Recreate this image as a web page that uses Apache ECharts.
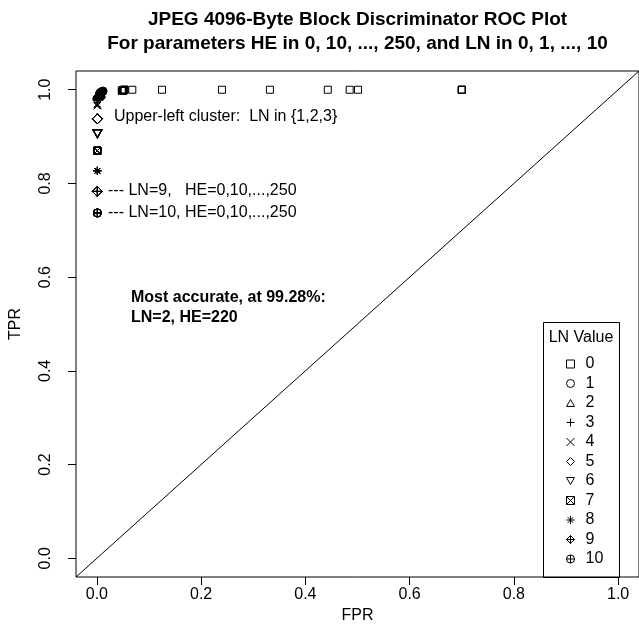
<!DOCTYPE html>
<html>
<head>
<meta charset="utf-8">
<title>ROC Plot</title>
<script src="https://cdn.jsdelivr.net/npm/echarts@6/dist/echarts.min.js"></script>
<style>html,body{margin:0;padding:0;background:#fff;}</style>
</head>
<body>
<div id="main" style="width:639px;height:635px;"></div>
<script type="text/javascript">
    // tick labels and axis limits (R adds 4% on each side)
    const xTicks = [0, 0.2, 0.4, 0.6, 0.8, 1.0];
    const yTicks = [0, 0.2, 0.4, 0.6, 0.8, 1.0];
    const axisMin = -0.04;
    const axisMax = 1.04;

    // legend names, LN = 0..10
    const lnNames = ['0', '1', '2', '3', '4', '5', '6', '7', '8', '9', '10'];

    // FPR / TPR per LN value, one point per HE value
    const fpr0 = [0.700, 0.700, 0.700, 0.501, 0.485, 0.443, 0.332, 0.240, 0.125, 0.068,
        0.053, 0.053, 0.052, 0.052, 0.052, 0.051, 0.051, 0.051, 0.050, 0.050,
        0.050, 0.049, 0.049, 0.049, 0.048, 0.048];
    const tpr0 = [1.000, 1.000, 1.000, 1.000, 1.000, 1.000, 1.000, 1.000, 1.000, 1.000,
        1.000, 1.000, 1.000, 0.999, 0.999, 0.999, 0.999, 0.999, 0.999, 0.999,
        0.999, 0.999, 0.998, 0.998, 0.998, 0.998];
    const fpr1 = [0.012, 0.011, 0.011, 0.010, 0.010, 0.010, 0.009, 0.009, 0.009, 0.009,
        0.008, 0.008, 0.008, 0.008, 0.008, 0.007, 0.007, 0.007, 0.007, 0.007,
        0.006, 0.006, 0.006, 0.006, 0.005, 0.005];
    const tpr1 = [0.997, 0.997, 0.996, 0.996, 0.996, 0.995, 0.995, 0.995, 0.995, 0.994,
        0.994, 0.994, 0.994, 0.994, 0.993, 0.993, 0.993, 0.993, 0.993, 0.992,
        0.992, 0.992, 0.992, 0.991, 0.991, 0.990];
    const fpr2 = [0.007, 0.007, 0.006, 0.006, 0.006, 0.005, 0.005, 0.005, 0.005, 0.005,
        0.004, 0.004, 0.004, 0.004, 0.004, 0.004, 0.004, 0.004, 0.004, 0.004,
        0.004, 0.003, 0.003, 0.003, 0.003, 0.002];
    const tpr2 = [0.993, 0.993, 0.992, 0.992, 0.992, 0.991, 0.991, 0.991, 0.991, 0.990,
        0.990, 0.990, 0.990, 0.990, 0.990, 0.990, 0.990, 0.990, 0.990, 0.989,
        0.989, 0.989, 0.988, 0.988, 0.987, 0.986];
    const fpr3 = [0.003, 0.003, 0.003, 0.003, 0.002, 0.002, 0.002, 0.002, 0.002, 0.002,
        0.002, 0.002, 0.002, 0.001, 0.001, 0.001, 0.001, 0.001, 0.001, 0.001,
        0.001, 0.001, 0.001, 0.001, 0.001, 0.001];
    const tpr3 = [0.987, 0.987, 0.986, 0.986, 0.986, 0.985, 0.985, 0.985, 0.984, 0.984,
        0.984, 0.983, 0.983, 0.983, 0.982, 0.982, 0.982, 0.981, 0.981, 0.981,
        0.980, 0.980, 0.980, 0.979, 0.979, 0.978];
    const fpr4 = [0.001, 0.001, 0.001, 0.001, 0.001, 0.001];
    const tpr4 = [0.970, 0.968, 0.966, 0.966, 0.966, 0.966];
    const fpr5 = [0.001, 0.001, 0.001, 0.001, 0.001, 0.001];
    const tpr5 = [0.938, 0.938, 0.938, 0.938, 0.938, 0.938];
    const fpr6 = [0.001, 0.001, 0.001, 0.001, 0.001, 0.001];
    const tpr6 = [0.906, 0.906, 0.906, 0.906, 0.906, 0.906];
    const fpr7 = [0.001, 0.001, 0.001, 0.001, 0.001, 0.001];
    const tpr7 = [0.870, 0.870, 0.870, 0.870, 0.870, 0.870];
    const fpr8 = [0.001, 0.001, 0.001, 0.001, 0.001, 0.001];
    const tpr8 = [0.827, 0.827, 0.827, 0.827, 0.827, 0.827];
    const fpr9 = [0.001, 0.001, 0.001, 0.001, 0.001, 0.001];
    const tpr9 = [0.783, 0.783, 0.783, 0.783, 0.783, 0.783];
    const fpr10 = [0.001, 0.001, 0.001, 0.001, 0.001, 0.001];
    const tpr10 = [0.737, 0.737, 0.737, 0.737, 0.737, 0.737];

    // abline(0, 1) across the plot region
    const diagX = [axisMin, axisMax];
    const diagY = [axisMin, axisMax];

    const fprAll = [fpr0, fpr1, fpr2, fpr3, fpr4, fpr5, fpr6, fpr7, fpr8, fpr9, fpr10];
    const tprAll = [tpr0, tpr1, tpr2, tpr3, tpr4, tpr5, tpr6, tpr7, tpr8, tpr9, tpr10];

    // R pch 0..10 as open path symbols
    const circ = 'M10,5A5,5,0,1,1,0,5A5,5,0,1,1,10,5Z';
    const pchPaths = [
        'path://M0,0L10,0L10,10L0,10Z',
        'path://' + circ,
        'path://M5,0L10,8.66L0,8.66Z',
        'path://M5,0L5,10M0,5L10,5',
        'path://M0,0L10,10M10,0L0,10',
        'path://M5,0L10,5L5,10L0,5Z',
        'path://M0,0L10,0L5,8.66Z',
        'path://M0,0L10,0L10,10L0,10ZM0,0L10,10M10,0L0,10',
        'path://M5,0L5,10M0,5L10,5M1.5,1.5L8.5,8.5M8.5,1.5L1.5,8.5',
        'path://M5,0L10,5L5,10L0,5ZM5,0L5,10M0,5L10,5',
        'path://' + circ + 'M5,0L5,10M0,5L10,5'
    ];
    const pchSizes = [[7, 7], [8, 8], [9, 8], [9, 9], [7, 7], [10, 10], [9, 8], [7, 7], [8, 8], [10, 10], [8, 8]];

    const font = '"Liberation Sans", Arial, Helvetica, sans-serif';
    const myChart = echarts.init(document.getElementById('main'));

    const series = lnNames.map(function (name, i) {
        return {
            name: name,
            type: 'scatter',
            symbol: pchPaths[i],
            symbolSize: pchSizes[i],
            data: fprAll[i].map(function (x, k) { return [x, tprAll[i][k]]; }),
            itemStyle: {color: 'none', borderColor: '#000', borderWidth: 1, opacity: 1},
            emphasis: {disabled: true},
            silent: true,
            z: 3
        };
    });
    series.push({
        type: 'line',
        data: diagX.map(function (x, k) { return [x, diagY[k]]; }),
        symbol: 'none',
        lineStyle: {color: '#000', width: 1},
        silent: true,
        z: 2
    });

    const option = {
        animation: false,
        backgroundColor: '#fff',
        textStyle: {fontFamily: font},
        grid: {
            left: 76, top: 71, width: 563, height: 506,
            show: true, borderColor: '#000', borderWidth: 1,
            containLabel: false, outerBoundsMode: 'none'
        },
        xAxis: {
            type: 'value', min: axisMin, max: axisMax,
            name: 'FPR', nameLocation: 'middle', nameGap: 31,
            nameTextStyle: {fontSize: 16, color: '#000', fontFamily: font},
            axisLine: {show: false, onZero: false},
            axisTick: {show: true, length: 8, customValues: xTicks, lineStyle: {color: '#000'}},
            axisLabel: {
                customValues: xTicks, fontSize: 16, color: '#000', fontFamily: font, margin: 10,
                formatter: function (v) { return v.toFixed(1); }
            },
            splitLine: {show: false}
        },
        yAxis: {
            type: 'value', min: axisMin, max: axisMax,
            name: 'TPR', nameLocation: 'middle', nameGap: 52, nameRotate: 90,
            nameTextStyle: {fontSize: 16, color: '#000', fontFamily: font},
            axisLine: {show: false, onZero: false},
            axisTick: {show: true, length: 8, customValues: yTicks, lineStyle: {color: '#000'}},
            axisLabel: {
                customValues: yTicks, fontSize: 16, color: '#000', fontFamily: font, margin: 22, rotate: 90,
                formatter: function (v) { return v.toFixed(1); }
            },
            splitLine: {show: false}
        },
        legend: {
            orient: 'vertical',
            left: 564, top: 356, padding: 0,
            itemWidth: 8, itemHeight: 8, itemGap: 3.5,
            selectedMode: false,
            z: 10,
            textStyle: {fontSize: 16, color: '#000', fontFamily: font, lineHeight: 16, padding: [0, 0, 0, 6]},
            data: lnNames.map(function (name, i) {
                return {
                    name: name, icon: pchPaths[i],
                    itemStyle: {color: 'none', borderColor: '#000', borderWidth: 1}
                };
            })
        },
        graphic: [
            {type: 'text', x: 357.5, y: 20, style: {text: 'JPEG 4096-Byte Block Discriminator ROC Plot', font: 'bold 19px ' + font, fill: '#000', textAlign: 'center', textVerticalAlign: 'middle'}},
            {type: 'text', x: 357.5, y: 44, style: {text: 'For parameters HE in 0, 10, ..., 250, and LN in 0, 1, ..., 10', font: 'bold 19px ' + font, fill: '#000', textAlign: 'center', textVerticalAlign: 'middle'}},
            {type: 'text', x: 114, y: 117, style: {text: 'Upper-left cluster:  LN in {1,2,3}', font: '16px ' + font, fill: '#000', textVerticalAlign: 'middle'}},
            {type: 'text', x: 108, y: 191, style: {text: '--- LN=9,   HE=0,10,...,250', font: '16px ' + font, fill: '#000', textVerticalAlign: 'middle'}},
            {type: 'text', x: 108, y: 213, style: {text: '--- LN=10, HE=0,10,...,250', font: '16px ' + font, fill: '#000', textVerticalAlign: 'middle'}},
            {type: 'text', x: 131, y: 298, style: {text: 'Most accurate, at 99.28%:', font: 'bold 16px ' + font, fill: '#000', textVerticalAlign: 'middle'}},
            {type: 'text', x: 131, y: 318, style: {text: 'LN=2, HE=220', font: 'bold 16px ' + font, fill: '#000', textVerticalAlign: 'middle'}},
            {type: 'rect', shape: {x: 543.5, y: 322.5, width: 76, height: 255}, style: {fill: 'none', stroke: '#000', lineWidth: 1}},
            {type: 'text', x: 581, y: 338, style: {text: 'LN Value', font: '16px ' + font, fill: '#000', textAlign: 'center', textVerticalAlign: 'middle'}}
        ],
        series: series
    };

    myChart.setOption(option);
</script>
</body>
</html>
